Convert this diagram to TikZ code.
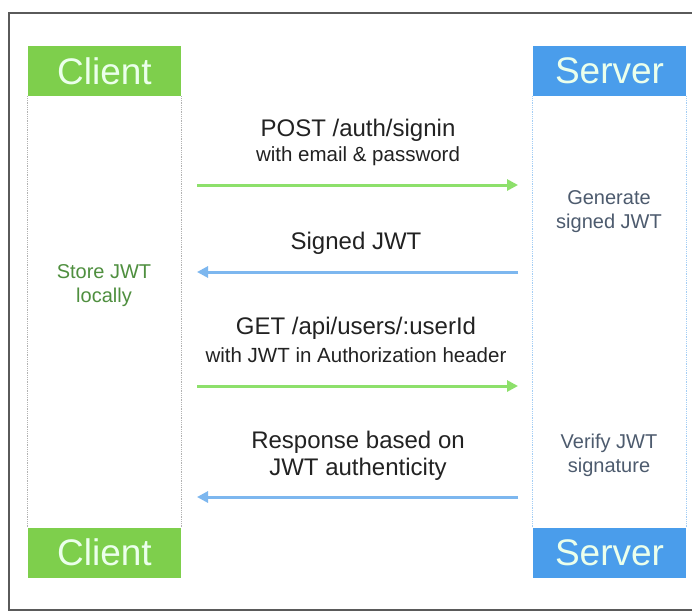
\documentclass[tikz,border=0pt]{standalone}
\usepackage{fontspec}
\setmainfont{Liberation Sans}
\usetikzlibrary{arrows.meta}
\definecolor{cgreen}{HTML}{7ECF4C}
\definecolor{sblue}{HTML}{4A9DEB}
\definecolor{agreen}{HTML}{8DE06B}
\definecolor{ablue}{HTML}{7DB7EF}
\definecolor{ctext}{HTML}{4F8F3F}
\definecolor{stext}{HTML}{4D5B6E}
\definecolor{mtext}{HTML}{222222}
\definecolor{frame}{HTML}{5A5A5A}
\tikzset{
  actor/.style={minimum width=153pt, minimum height=50pt, inner sep=0pt, text=white!92!green,
    font=\fontsize{37}{40}\selectfont},
  clientbox/.style={actor, fill=cgreen},
  serverbox/.style={actor, fill=sblue},
  lifeline/.style={densely dotted, line width=0.8pt},
  msg/.style={align=center, text=mtext, font=\fontsize{24}{26}\selectfont, inner sep=0pt},
  submsg/.style={align=center, text=mtext, font=\fontsize{20.5}{24}\selectfont, inner sep=0pt},
  clabel/.style={align=center, text=ctext, font=\fontsize{20}{24}\selectfont, inner sep=0pt},
  slabel/.style={align=center, text=stext, font=\fontsize{20}{24}\selectfont, inner sep=0pt},
  garrow/.style={draw=agreen, line width=3pt, -{Triangle[length=11pt,width=11pt]}},
  barrow/.style={draw=ablue, line width=3pt, -{Triangle[length=11pt,width=11pt]}},
}
\begin{document}
\begin{tikzpicture}[x=1pt,y=-1pt]
\useasboundingbox (0,0) rectangle (692,613);
\fill[white] (0,0) rectangle (692,613);
\draw[frame, line width=1.5pt] (9,13) rectangle (700,610);

\node[clientbox] (ct) at (104.5,71) {Client};
\node[serverbox] (st) at (609.5,71) {Server};
\node[clientbox] (cb) at (104.5,552.5) {Client};
\node[serverbox] (sb) at (609.5,552.5) {Server};

\draw[lifeline, gray!60] (ct.south west) -- (cb.north west);
\draw[lifeline, gray!60] (ct.south east) -- (cb.north east);
\draw[lifeline, sblue!50] (st.south west) -- (sb.north west);
\draw[lifeline, sblue!50] (st.south east) -- (sb.north east);

\coordinate (a1s) at (197,185); \coordinate (a1e) at (518,185);
\coordinate (a2s) at (518,272); \coordinate (a2e) at (197,272);
\coordinate (a3s) at (197,386); \coordinate (a3e) at (518,386);
\coordinate (a4s) at (518,497); \coordinate (a4e) at (197,497);

\node[msg] (m1) at (358,130) {POST /auth/signin};
\node[submsg] (m1b) at (358,156) {with email \& password};
\draw[garrow] (a1s) -- (a1e);

\node[msg] (m2) at (356,243) {Signed JWT};
\draw[barrow] (a2s) -- (a2e);

\node[msg] (m3) at (356,328) {GET /api/users/:userId};
\node[submsg] (m3b) at (356,355) {with JWT in Authorization header};
\draw[garrow] (a3s) -- (a3e);

\node[msg] (m4) at (358,442) {Response based on};
\node[msg] (m4b) at (358,469) {JWT authenticity};
\draw[barrow] (a4s) -- (a4e);

\node[clabel] (cl) at (104,286) {Store JWT\\locally};
\node[slabel] (s1) at (609,212) {Generate\\signed JWT};
\node[slabel] (s2) at (609,455) {Verify JWT\\signature};
\end{tikzpicture}
\end{document}
